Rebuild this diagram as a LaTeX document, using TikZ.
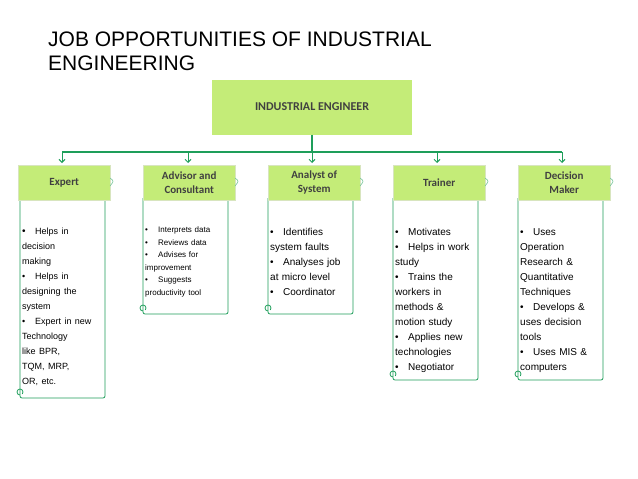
\documentclass[tikz,border=0pt]{standalone}
\usepackage{fontspec}
\setmainfont{Liberation Sans}
\newfontfamily\carfont{Carlito}
\usetikzlibrary{arrows.meta}
\definecolor{lg}{HTML}{C4EC78}
\definecolor{gl}{HTML}{1E9E5A}
\definecolor{tx}{HTML}{404040}
\newcommand{\bi}[1]{\par\hangindent=13pt\hangafter=1\noindent\makebox[13pt][l]{\textbullet}#1}
\tikzset{
 head/.style={fill=lg,draw=lg!80!black!40,minimum width=92pt,minimum height=35pt,anchor=north west,inner sep=0pt,font=\carfont\bfseries\fontsize{11}{14}\selectfont,text=tx,align=center},
 body/.style={draw=gl,line width=0.8pt,rounded corners=2pt},
 list/.style={anchor=north west,text width=78pt,inner sep=0pt,align=left,font=\fontsize{10}{15}\selectfont},
 conn/.style={gl,line width=2pt},
 arr/.style={gl,line width=1pt,-{Straight Barb[length=3pt,width=6pt]}},
 curl/.style={gl,line width=0.8pt}
}
\begin{document}
\begin{tikzpicture}[x=1pt,y=-1pt]
\useasboundingbox[fill=white] (0,0) rectangle (638,479);
\node[anchor=base west,font=\fontsize{21}{24}\selectfont,inner sep=0pt] (t1) at (48,46) {JOB OPPORTUNITIES OF INDUSTRIAL};
\node[anchor=base west,font=\fontsize{21}{24}\selectfont,inner sep=0pt] (t2) at (48,70) {ENGINEERING};
\node[fill=lg,minimum width=200pt,minimum height=55pt,inner sep=0pt,font=\carfont\bfseries\fontsize{12}{14}\selectfont,text=tx] (top) at (312,107) {INDUSTRIAL ENGINEER};
\coordinate (j) at (312,152);
\draw[conn] (top.south) -- (j);
\draw[conn] (62,152) -- (562,152);
\foreach \x/\n in {62/a,188/b,312/c,437/d,562/e}{
  \coordinate (s\n) at (\x,152);
  \coordinate (e\n) at (\x,163);
  \draw[arr] (s\n) -- (e\n);
}
\foreach \x/\y/\n in {20/398/a,143/314/b,268/314/c,393/380/d,518/380/e}{
  \draw[body] (\x,198) -- (\x,\y) -- (\x+85,\y) -- (\x+85,198);
  \draw[curl] (\x,\y-3) arc (90:400:3);
}
\node[head] (ha) at (18,165) {Expert};
\node[head] (hb) at (143,165) {Advisor and\\Consultant};
\node[head] (hc) at (268,165) {Analyst of\\System};
\node[head] (hd) at (393,165) {Trainer};
\node[head] (he) at (518,165) {Decision\\Maker};
\foreach \x in {110,235,360,485,610}{
  \draw[gl!60,line width=0.6pt] (\x,178) .. controls (\x+4,181) .. (\x,186);
}
\node[list] (la) at (22,219) {\bi{\fontsize{9}{15}\selectfont Helps in\\decision\\making}\bi{Helps in\\designing the\\system}\bi{Expert in new\\Technology\\like BPR,\\TQM, MRP,\\OR, etc.}};
\node[list,font=\fontsize{8}{12.5}\selectfont] (lb) at (145,220) {\bi{Interprets data}\bi{Reviews data}\bi{Advises for\\improvement}\bi{Suggests\\productivity tool}};
\node[list] (lc) at (270,220) {\bi{Identifies\\system faults}\bi{Analyses job\\at micro level}\bi{Coordinator}};
\node[list] (ld) at (395,220) {\bi{Motivates}\bi{Helps in work\\study}\bi{Trains the\\workers in\\methods \&\\motion study}\bi{Applies new\\technologies}\bi{Negotiator}};
\node[list] (le) at (520,220) {\bi{Uses\\Operation\\Research \&\\Quantitative\\Techniques}\bi{Develops \&\\uses decision\\tools}\bi{Uses MIS \&\\computers}};
\end{tikzpicture}
\end{document}
